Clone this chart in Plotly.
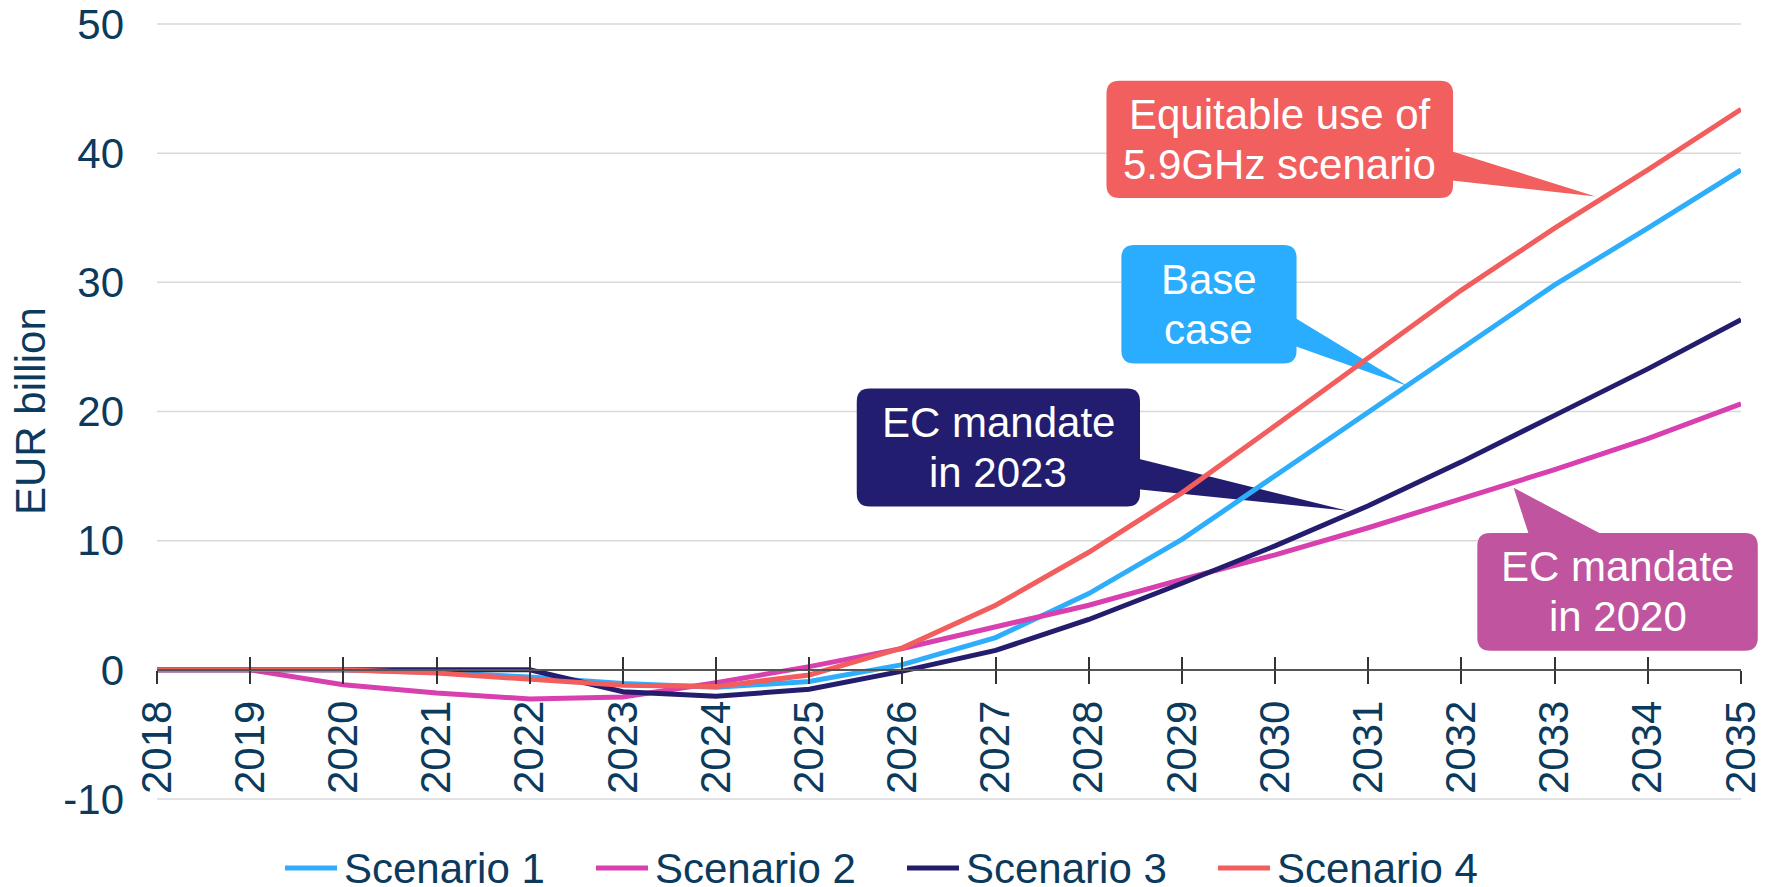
import plotly.graph_objects as go

# ---------------- data ----------------
years = list(range(2018, 2036))
series_names = ["Scenario 1", "Scenario 2", "Scenario 3", "Scenario 4"]
scenario_1 = [0, 0, 0, -0.2, -0.55, -1.05, -1.35, -0.9, 0.4, 2.5, 5.9, 10.1, 15.0, 19.9, 24.9, 29.8, 34.2, 38.7]
scenario_2 = [0, 0, -1.15, -1.8, -2.25, -2.1, -1.0, 0.25, 1.65, 3.3, 5.0, 7.0, 8.9, 11.0, 13.2, 15.5, 17.9, 20.6]
scenario_3 = [0, 0, 0, 0, 0, -1.7, -2.05, -1.5, -0.1, 1.5, 3.9, 6.7, 9.6, 12.7, 16.1, 19.7, 23.3, 27.1]
scenario_4 = [0, 0, 0, -0.25, -0.75, -1.2, -1.3, -0.4, 1.7, 5.0, 9.1, 13.7, 18.9, 24.2, 29.4, 34.2, 38.7, 43.4]
y_ticks = [-10, 0, 10, 20, 30, 40, 50]
y_tick_labels = ["-10", "0", "10", "20", "30", "40", "50"]
y_title = "EUR billion"

# ---------------- styles ----------------
line_colors = ["#2EADFB", "#D83FAF", "#241C6D", "#F25E5D"]
TEXT = "#0B3A5C"
GRID = "#D9D9D9"
FONT = "Liberation Sans, Arial, sans-serif"
FS = 42
LINE_GAP = 50
X_RANGE = [2018, 2035]
Y_RANGE = [-10, 50]
W, H = 1772, 887
ML, MR, MT, MB = 157, 31, 24, 88
PW, PH = W - ML - MR, H - MT - MB

# legend layout (pixels on the page)
LEG_X0, LEG_STEP, LEG_Y = 285, 311, 868
LEG_SAMPLE_LEN, LEG_TEXT_OFFSET = 52, 57

# callouts (data coordinates): box = (x0, y0, x1, y1), wedge = 3 points
callouts = [
    dict(lines=["Equitable use of", "5.9GHz scenario"], color="#F25F5F",
         box=(2028.19, 36.53, 2031.91, 45.61),
         wedge=[(2031.85, 40.25), (2031.85, 37.93), (2033.44, 36.65)]),
    dict(lines=["Base", "case"], color="#2BADFF",
         box=(2028.35, 23.72, 2030.23, 32.9),
         wedge=[(2030.18, 27.4), (2030.18, 25.15), (2031.42, 21.98)]),
    dict(lines=["EC mandate", "in 2023"], color="#231D6F",
         box=(2025.51, 12.65, 2028.55, 21.79),
         wedge=[(2028.5, 16.4), (2028.5, 14.0), (2030.78, 12.31)]),
    dict(lines=["EC mandate", "in 2020"], color="#C0549F",
         box=(2032.17, 1.47, 2035.18, 10.6),
         wedge=[(2032.72, 10.55), (2033.49, 10.55), (2032.56, 14.09)]),
]
RADIUS_PX = 13


def px(x):
    return (x - X_RANGE[0]) / (X_RANGE[1] - X_RANGE[0])


def py(y):
    return (y - Y_RANGE[0]) / (Y_RANGE[1] - Y_RANGE[0])


def page_x(p):
    return (p - ML) / PW


def page_y(p):
    return (PH - (p - MT)) / PH


fig = go.Figure()
for name, vals, col in zip(series_names, [scenario_1, scenario_2, scenario_3, scenario_4], line_colors):
    fig.add_trace(go.Scatter(x=years, y=vals, name=name, mode="lines",
                             line=dict(color=col, width=5), showlegend=False))

# invisible trace on the overlay axis (for inward tick marks)
fig.add_trace(go.Scatter(x=years, y=scenario_1, xaxis="x2", mode="lines",
                         line=dict(width=0, color="rgba(0,0,0,0)"),
                         showlegend=False, hoverinfo="skip"))

shapes = []
annotations = []

# gridlines (drawn as shapes so that the callout boxes cover them)
for yt in y_ticks:
    if yt == 0:
        continue
    shapes.append(dict(type="line", xref="paper", yref="paper", x0=0, x1=1,
                       y0=py(yt), y1=py(yt), line=dict(color=GRID, width=1.5),
                       layer="below"))

rx = RADIUS_PX / PW
ry = RADIUS_PX / PH
for c in callouts:
    x0, y0, x1, y1 = c["box"]
    X0, Y0, X1, Y1 = px(x0), py(y0), px(x1), py(y1)
    path = (f"M {X0+rx},{Y0} L {X1-rx},{Y0} Q {X1},{Y0} {X1},{Y0+ry} "
            f"L {X1},{Y1-ry} Q {X1},{Y1} {X1-rx},{Y1} L {X0+rx},{Y1} "
            f"Q {X0},{Y1} {X0},{Y1-ry} L {X0},{Y0+ry} Q {X0},{Y0} {X0+rx},{Y0} Z")
    shapes.append(dict(type="path", xref="paper", yref="paper", path=path,
                       fillcolor=c["color"], line=dict(width=0), layer="below"))
    (a, b), (cc, d), (e, f) = c["wedge"]
    wpath = f"M {px(a)},{py(b)} L {px(cc)},{py(d)} L {px(e)},{py(f)} Z"
    shapes.append(dict(type="path", xref="paper", yref="paper", path=wpath,
                       fillcolor=c["color"], line=dict(width=0), layer="below"))
    n = len(c["lines"])
    for i, t in enumerate(c["lines"]):
        annotations.append(dict(xref="paper", yref="paper", x=(X0 + X1) / 2, y=(Y0 + Y1) / 2,
                                yshift=((n - 1) / 2 - i) * LINE_GAP,
                                text=t, showarrow=False, align="center",
                                xanchor="center", yanchor="middle",
                                font=dict(family=FONT, size=FS, color="white")))

# legend (line sample + label per series)
for i, (name, col) in enumerate(zip(series_names, line_colors)):
    lx = LEG_X0 + i * LEG_STEP
    shapes.append(dict(type="line", xref="paper", yref="paper",
                       x0=page_x(lx), x1=page_x(lx + LEG_SAMPLE_LEN),
                       y0=page_y(LEG_Y), y1=page_y(LEG_Y),
                       line=dict(color=col, width=5)))
    annotations.append(dict(xref="paper", yref="paper", x=page_x(lx + LEG_TEXT_OFFSET),
                            y=page_y(LEG_Y), text=name, showarrow=False,
                            xanchor="left", yanchor="middle",
                            font=dict(family=FONT, size=FS, color=TEXT)))

annotations.append(dict(xref="paper", yref="paper", x=page_x(30.5), y=0.5,
                        text=y_title, textangle=-90, showarrow=False,
                        xanchor="center", yanchor="middle",
                        font=dict(family=FONT, size=FS, color=TEXT)))

zero_pos = py(0)
fig.update_layout(
    width=W, height=H,
    margin=dict(l=ML, r=MR, t=MT, b=MB, autoexpand=False),
    paper_bgcolor="white", plot_bgcolor="white",
    font=dict(family=FONT, size=FS, color=TEXT),
    xaxis=dict(range=X_RANGE, tickmode="array", tickvals=years, ticktext=[str(y) for y in years],
               tickangle=-90, tickfont=dict(size=FS, color=TEXT),
               anchor="free", position=zero_pos,
               showline=True, linecolor="#555555", linewidth=2,
               ticks="outside", ticklen=13, tickwidth=1.5, tickcolor="#333333",
               ticklabelstandoff=0,
               showgrid=False, zeroline=False, automargin=False),
    xaxis2=dict(range=X_RANGE, overlaying="x", anchor="free", position=zero_pos,
                tickmode="array", tickvals=years, showticklabels=False,
                ticks="inside", ticklen=13, tickwidth=1.5, tickcolor="#333333",
                showline=False, showgrid=False, zeroline=False, automargin=False),
    yaxis=dict(range=Y_RANGE, tickmode="array", tickvals=y_ticks, ticktext=y_tick_labels,
               tickfont=dict(size=FS, color=TEXT),
               showgrid=False, zeroline=False, showline=False, ticks="",
               ticklabelstandoff=32, automargin=False),
    shapes=shapes,
    annotations=annotations,
    showlegend=False,
)

fig.write_html("out.html", config={"displayModeBar": False},
               post_script="document.body.style.margin='0';")
